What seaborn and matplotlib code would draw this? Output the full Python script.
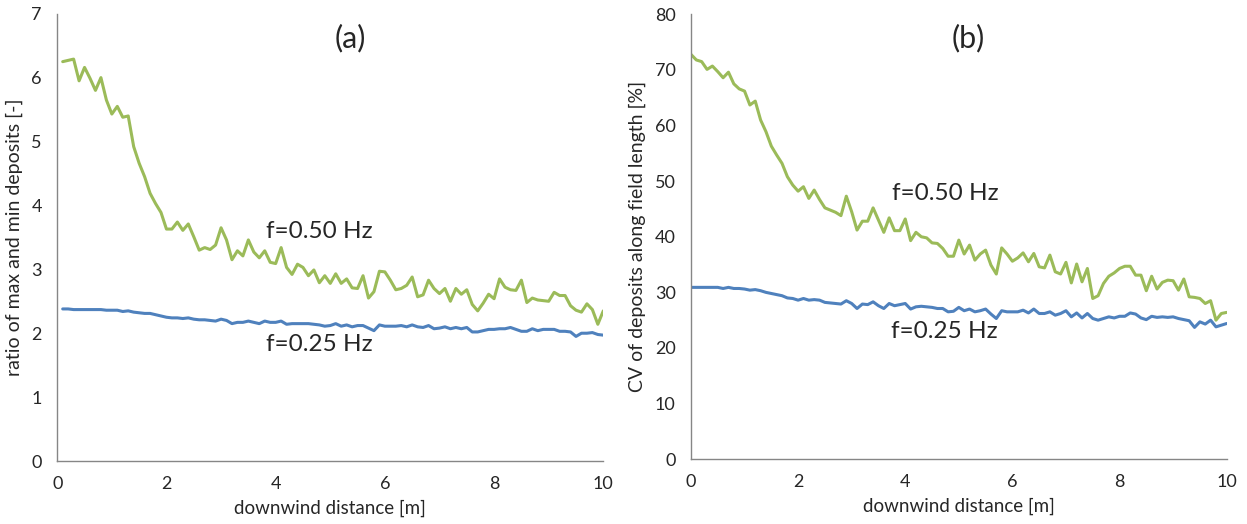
import numpy as np
import pandas as pd
import seaborn as sns
from matplotlib import pyplot as plt

# downwind positions [m]
dist_a = np.round(np.arange(1, 101) * 0.1, 1)   # 0.1 .. 10.0
dist_b = np.round(np.arange(0, 101) * 0.1, 1)   # 0.0 .. 10.0

# (a) ratio of max and min deposits [-]
ratio_050 = [
    6.25, 6.27, 6.29, 5.95, 6.16, 5.99, 5.80, 6.00, 5.65, 5.43,
    5.55, 5.38, 5.40, 4.92, 4.66, 4.45, 4.19, 4.03, 3.89, 3.63,
    3.63, 3.74, 3.61, 3.71, 3.51, 3.30, 3.34, 3.31, 3.38, 3.65,
    3.46, 3.15, 3.29, 3.21, 3.46, 3.27, 3.18, 3.29, 3.11, 3.09,
    3.34, 3.03, 2.92, 3.08, 3.03, 2.90, 2.99, 2.79, 2.90, 2.78,
    2.93, 2.78, 2.85, 2.71, 2.70, 2.90, 2.55, 2.65, 2.97, 2.96,
    2.83, 2.68, 2.70, 2.75, 2.88, 2.57, 2.60, 2.83, 2.70, 2.62,
    2.70, 2.50, 2.70, 2.61, 2.68, 2.45, 2.35, 2.47, 2.61, 2.54,
    2.85, 2.72, 2.68, 2.67, 2.83, 2.48, 2.55, 2.52, 2.51, 2.50,
    2.64, 2.59, 2.59, 2.43, 2.36, 2.33, 2.46, 2.37, 2.14, 2.35,
]
ratio_025 = [
    2.38, 2.38, 2.37, 2.37, 2.37, 2.37, 2.37, 2.37, 2.36, 2.36,
    2.36, 2.34, 2.35, 2.33, 2.32, 2.31, 2.31, 2.29, 2.27, 2.25,
    2.24, 2.24, 2.23, 2.24, 2.22, 2.21, 2.21, 2.20, 2.19, 2.22,
    2.20, 2.15, 2.17, 2.17, 2.19, 2.17, 2.15, 2.19, 2.17, 2.17,
    2.19, 2.14, 2.15, 2.15, 2.15, 2.15, 2.14, 2.13, 2.11, 2.12,
    2.15, 2.11, 2.13, 2.10, 2.12, 2.12, 2.08, 2.04, 2.13, 2.11,
    2.11, 2.11, 2.12, 2.10, 2.13, 2.10, 2.09, 2.12, 2.07, 2.08,
    2.10, 2.07, 2.09, 2.07, 2.09, 2.02, 2.02, 2.04, 2.06, 2.06,
    2.07, 2.07, 2.09, 2.06, 2.03, 2.03, 2.07, 2.04, 2.06, 2.06,
    2.06, 2.03, 2.03, 2.02, 1.95, 2.00, 2.00, 2.01, 1.98, 1.97,
]

# (b) CV of deposits along field length [%]
cv_050 = [
    72.8, 71.8, 71.5, 70.1, 70.7, 69.7, 68.6, 69.6, 67.5, 66.6,
    66.2, 63.7, 64.4, 61.0, 58.9, 56.3, 54.7, 53.2, 50.8, 49.3,
    48.2, 49.0, 46.9, 48.4, 46.7, 45.2, 44.8, 44.4, 43.8, 47.3,
    44.5, 41.2, 42.8, 42.8, 45.2, 43.0, 40.8, 43.4, 41.1, 41.1,
    43.2, 39.3, 40.8, 40.0, 39.8, 38.9, 38.8, 37.9, 36.5, 36.5,
    39.4, 36.9, 38.5, 35.8, 36.9, 37.6, 34.9, 33.3, 38.0, 36.9,
    35.6, 36.2, 37.1, 35.5, 37.0, 34.6, 34.4, 36.7, 33.7, 33.3,
    35.4, 31.7, 35.1, 31.9, 34.3, 28.9, 29.4, 31.6, 32.9, 33.5,
    34.3, 34.7, 34.7, 33.1, 33.1, 30.3, 32.9, 30.6, 31.8, 32.2,
    32.1, 30.4, 32.4, 29.2, 29.1, 28.9, 28.0, 28.5, 25.0, 26.2,
    26.4,
]
cv_025 = [
    30.9, 30.9, 30.9, 30.9, 30.9, 30.9, 30.7, 30.9, 30.7, 30.7,
    30.6, 30.4, 30.5, 30.3, 30.0, 29.8, 29.6, 29.4, 29.0, 28.9,
    28.6, 28.9, 28.6, 28.7, 28.6, 28.2, 28.1, 28.0, 27.9, 28.5,
    28.0, 27.1, 27.9, 27.8, 28.3, 27.6, 27.1, 28.0, 27.6, 27.8,
    28.0, 27.0, 27.4, 27.5, 27.4, 27.3, 27.1, 27.1, 26.5, 26.6,
    27.3, 26.7, 27.0, 26.5, 26.7, 27.0, 26.1, 25.3, 26.7, 26.5,
    26.5, 26.5, 26.8, 26.3, 27.0, 26.2, 26.2, 26.5, 25.9, 26.2,
    26.7, 25.6, 26.3, 25.4, 26.2, 25.3, 25.0, 25.3, 25.6, 25.4,
    25.7, 25.7, 26.3, 26.1, 25.4, 25.1, 25.7, 25.5, 25.6, 25.5,
    25.6, 25.3, 25.1, 24.9, 23.7, 24.7, 24.3, 25.0, 23.8, 24.1,
    24.4,
]

GREEN = '#9BBB59'
BLUE = '#4F81BD'
AXIS_GREY = '#868686'

sns.set_style('white')
plt.rcParams['font.family'] = ['Lato', 'DejaVu Sans']

df_a = pd.DataFrame({'dist': dist_a, 'f050': ratio_050, 'f025': ratio_025})
df_b = pd.DataFrame({'dist': dist_b, 'f050': cv_050, 'f025': cv_025})

fig = plt.figure(figsize=(12.47, 5.24), dpi=100)
ax_a = fig.add_axes([0.0459, 0.1202, 0.4379, 0.8536])
ax_b = fig.add_axes([0.5541, 0.1237, 0.4296, 0.8489])

panels = [
    (ax_a, df_a, (0, 7), 1, 'ratio of max and min deposits [-]', '(a)',
     (5.36, 6.62), (3.83, 3.59), (3.83, 1.82)),
    (ax_b, df_b, (0, 80), 10, 'CV of deposits along field length [%]', '(b)',
     (5.17, 75.8), (3.76, 47.7), (3.74, 22.9)),
]

for ax, df, ylim, ystep, ylabel, tag, tag_pos, lab50_pos, lab25_pos in panels:
    sns.lineplot(data=df, x='dist', y='f025', color=BLUE, linewidth=2.2, ax=ax)
    sns.lineplot(data=df, x='dist', y='f050', color=GREEN, linewidth=2.2, ax=ax)
    ax.set_xlim(0, 10)
    ax.set_ylim(*ylim)
    ax.set_xticks(np.arange(0, 11, 2))
    ax.set_yticks(np.arange(ylim[0], ylim[1] + ystep, ystep))
    ax.set_xlabel('downwind distance [m]', fontsize=13.5, labelpad=5)
    ax.set_ylabel(ylabel, fontsize=14, labelpad=6)
    ax.tick_params(axis='both', labelsize=13, direction='out', length=5,
                   width=1, color=AXIS_GREY, pad=6)
    for side in ('top', 'right'):
        ax.spines[side].set_visible(False)
    for side in ('left', 'bottom'):
        ax.spines[side].set_color(AXIS_GREY)
        ax.spines[side].set_linewidth(1)
    ax.text(*tag_pos, tag, fontsize=22, ha='center', va='center')
    ax.text(*lab50_pos, 'f=0.50 Hz', fontsize=17.5, ha='left', va='center')
    ax.text(*lab25_pos, 'f=0.25 Hz', fontsize=17.5, ha='left', va='center')

fig.savefig('out.png', dpi=100)
